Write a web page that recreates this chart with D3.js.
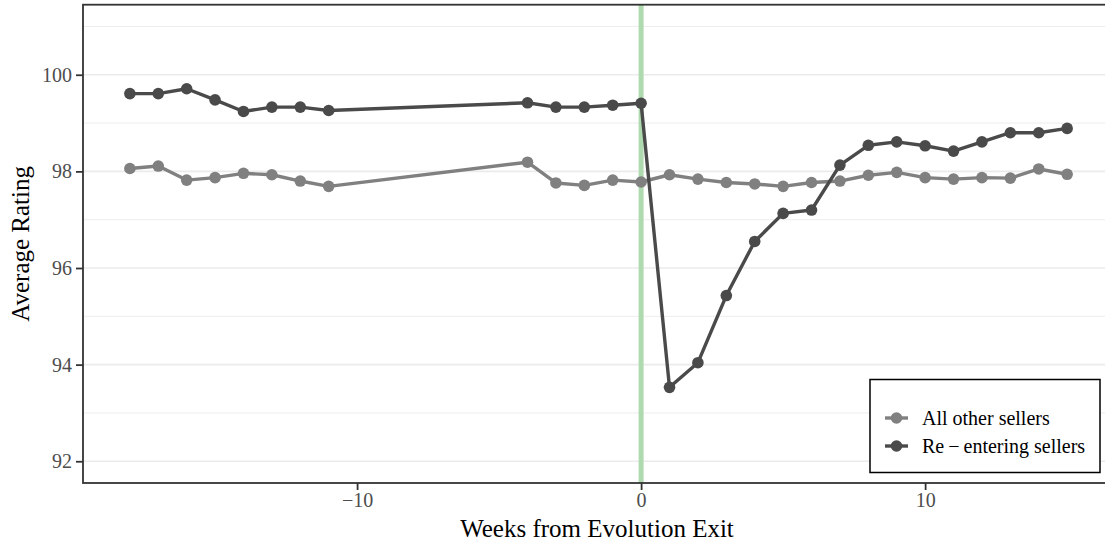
<!DOCTYPE html>
<html>
<head>
<meta charset="utf-8">
<script src="https://cdn.jsdelivr.net/npm/d3@7"></script>
<style>
  html, body { margin: 0; padding: 0; background: #fff; }
  svg { display: block; }
  text { font-family: "Liberation Serif", "Times New Roman", serif; }
</style>
</head>
<body>
<svg id="chart" width="1105" height="544"></svg>
<script>
const weeks = [-18,-17,-16,-15,-14,-13,-12,-11,-4,-3,-2,-1,0,1,2,3,4,5,6,7,8,9,10,11,12,13,14,15];
const otherSellers = [98.06,98.11,97.82,97.87,97.96,97.93,97.80,97.69,98.19,97.76,97.71,97.82,97.78,97.93,97.84,97.77,97.74,97.69,97.77,97.80,97.92,97.98,97.87,97.84,97.87,97.86,98.05,97.94];
const reentering = [99.61,99.61,99.71,99.48,99.24,99.33,99.33,99.26,99.42,99.33,99.33,99.37,99.41,93.53,94.04,95.43,96.55,97.13,97.20,98.13,98.54,98.61,98.53,98.42,98.61,98.80,98.80,98.89];
const seriesNames = ["All other sellers", "Re\u2009\u2212\u2009entering sellers"];
const seriesColors = ["#808080", "#4a4a4a"];
const xTicks = [-10, 0, 10];
const yMajor = [92, 94, 96, 98, 100];
const yMinor = [93, 95, 97, 99, 101];
const eventWeek = 0;

const svg = d3.select("#chart");
const panel = {left: 83, top: 4.7, right: 1114, bottom: 483};

const x = d3.scaleLinear().domain([-19.65, 16.65]).range([panel.left, panel.right]);
const y = d3.scaleLinear().domain([91.55, 101.45]).range([panel.bottom, panel.top]);

// gridlines
svg.append("g").selectAll("line").data(yMinor).join("line")
  .attr("x1", panel.left).attr("x2", panel.right)
  .attr("y1", d => y(d)).attr("y2", d => y(d))
  .attr("stroke", "#ededed").attr("stroke-width", 1);
svg.append("g").selectAll("line").data(yMajor).join("line")
  .attr("x1", panel.left).attr("x2", panel.right)
  .attr("y1", d => y(d)).attr("y2", d => y(d))
  .attr("stroke", "#ebebeb").attr("stroke-width", 1.6);

// event line
svg.append("line")
  .attr("x1", x(eventWeek)).attr("x2", x(eventWeek))
  .attr("y1", panel.top).attr("y2", panel.bottom)
  .attr("stroke", "#afdaaf").attr("stroke-width", 5);

const series = [otherSellers, reentering];
const line = d3.line().x((d, i) => x(weeks[i])).y(d => y(d));
series.forEach((vals, k) => {
  svg.append("path").datum(vals)
    .attr("d", line).attr("fill", "none")
    .attr("stroke", seriesColors[k]).attr("stroke-width", 3.4)
    .attr("stroke-linejoin", "round");
  svg.append("g").selectAll("circle").data(vals).join("circle")
    .attr("cx", (d, i) => x(weeks[i])).attr("cy", d => y(d))
    .attr("r", 5.8).attr("fill", seriesColors[k]);
});

// panel border
svg.append("rect")
  .attr("x", panel.left).attr("y", panel.top)
  .attr("width", panel.right - panel.left).attr("height", panel.bottom - panel.top)
  .attr("fill", "none").attr("stroke", "#333333").attr("stroke-width", 1.8);

// axes
const yAxis = d3.axisLeft(y).tickValues(yMajor).tickSize(7).tickPadding(4).tickFormat(d3.format("d"));
const gy = svg.append("g").attr("transform", `translate(${panel.left},0)`).call(yAxis);
gy.select(".domain").remove();
gy.selectAll(".tick line").attr("stroke", "#333").attr("stroke-width", 1.8);
gy.selectAll(".tick text").attr("fill", "#4d4d4d").style("font-size", "20px")
  .style("font-family", "'Liberation Serif', serif");

const xAxis = d3.axisBottom(x).tickValues(xTicks).tickSize(7).tickPadding(3)
  .tickFormat(d => d < 0 ? "\u2212" + Math.abs(d) : String(d));
const gx = svg.append("g").attr("transform", `translate(0,${panel.bottom})`).call(xAxis);
gx.select(".domain").remove();
gx.selectAll(".tick line").attr("stroke", "#333").attr("stroke-width", 1.8);
gx.selectAll(".tick text").attr("fill", "#4d4d4d").style("font-size", "20px")
  .style("font-family", "'Liberation Serif', serif");

// axis titles
svg.append("text").attr("x", 597).attr("y", 537)
  .attr("text-anchor", "middle").style("font-size", "25px").attr("fill", "#000")
  .text("Weeks from Evolution Exit");
svg.append("text").attr("transform", `translate(29,${(panel.top + panel.bottom) / 2}) rotate(-90)`)
  .attr("text-anchor", "middle").style("font-size", "25px").attr("fill", "#000")
  .text("Average Rating");

// legend
const lg = svg.append("g");
lg.append("rect").attr("x", 870).attr("y", 379.5).attr("width", 230).attr("height", 93)
  .attr("fill", "#fff").attr("stroke", "#000").attr("stroke-width", 1.5);
const rowY = [418, 446];
seriesNames.forEach((name, k) => {
  lg.append("line").attr("x1", 885).attr("x2", 908).attr("y1", rowY[k]).attr("y2", rowY[k])
    .attr("stroke", seriesColors[k]).attr("stroke-width", 3.4);
  lg.append("circle").attr("cx", 896.5).attr("cy", rowY[k]).attr("r", 5.8).attr("fill", seriesColors[k]);
  lg.append("text").attr("x", 922).attr("y", rowY[k] + 7).style("font-size", "20px")
    .attr("fill", "#000").text(name);
});
</script>
</body>
</html>
